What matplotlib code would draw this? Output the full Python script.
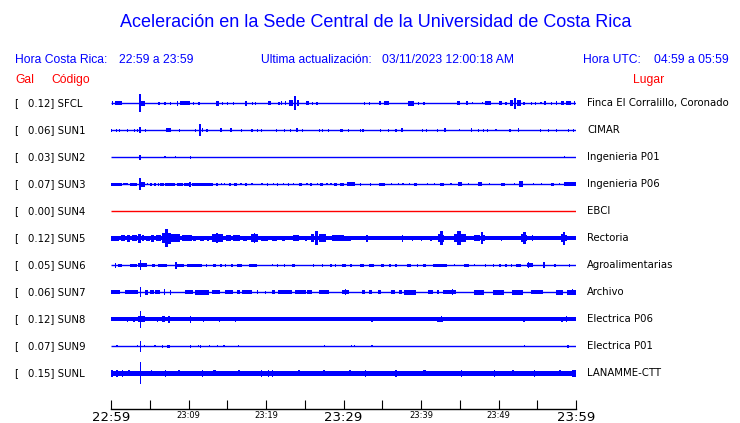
import matplotlib
matplotlib.use('Agg')
import matplotlib.pyplot as plt

# ---------------- data ----------------
codes = ['SFCL', 'SUN1', 'SUN2', 'SUN3', 'SUN4', 'SUN5', 'SUN6', 'SUN7', 'SUN8', 'SUN9', 'SUNL']
peaks_gal = [0.12, 0.06, 0.03, 0.07, 0.00, 0.12, 0.05, 0.06, 0.12, 0.07, 0.15]
places = ['Finca El Corralillo, Coronado', 'CIMAR', 'Ingenieria P01', 'Ingenieria P06', 'EBCI',
          'Rectoria', 'Agroalimentarias', 'Archivo', 'Electrica P06', 'Electrica P01', 'LANAMME-CTT']
# background (noise) half-amplitude of every trace, relative units
background = [0, 0, 0, 0, 0, 2.0, 0, 0, 1.9, 0, 2.5]
trace_colors = ['#0000FF', '#0000FF', '#0000FF', '#0000FF', '#FF0000', '#0000FF',
                '#0000FF', '#0000FF', '#0000FF', '#0000FF', '#0000FF']

# bursts: (start minute, end minute, half-amplitude) read from the record
ev_sfcl = [(0.1, 0.3, 2), (0.5, 1.4, 1.8), (3.65, 3.85, 9), (3.9, 4.4, 2.5), (6.1, 6.1, 1.5),
           (6.9, 6.9, 1.5), (7.6, 7.6, 1.5), (8.5, 8.7, 2.5), (8.9, 10.2, 2.2), (10.6, 10.6, 1.5),
           (11.2, 11.5, 1.5), (13.6, 13.9, 2.5), (14.3, 14.3, 1.5), (15.0, 15.0, 1.5), (15.7, 15.7, 1.5),
           (17.3, 17.6, 2.5), (18.2, 18.2, 1.5), (18.6, 18.6, 1.5), (20.2, 20.7, 2), (21.6, 21.6, 1.5),
           (21.9, 22.1, 2), (22.4, 22.6, 2), (23.0, 23.5, 3), (23.6, 23.9, 7), (24.0, 24.3, 3),
           (25.2, 25.5, 2), (25.9, 25.9, 1.5), (26.5, 26.5, 1.5), (32.6, 32.6, 1.5), (33.3, 33.3, 1.5),
           (34.6, 34.9, 2), (35.2, 35.9, 2), (38.3, 39.1, 2.5), (39.6, 39.6, 1.5), (40.3, 40.3, 1.5),
           (44.7, 45.0, 2), (45.8, 46.0, 2), (46.6, 46.6, 1), (47.9, 47.9, 1), (48.3, 49.0, 2),
           (50.1, 50.4, 2), (50.9, 50.9, 1.5), (51.5, 51.9, 3), (52.0, 52.3, 5.5), (52.4, 52.9, 3),
           (53.2, 53.2, 1.5), (54.2, 54.2, 1.5), (54.7, 54.7, 1.5), (55.4, 55.4, 1), (55.9, 56.1, 2),
           (56.8, 56.8, 1.5), (57.4, 57.6, 2), (58.1, 58.5, 2), (58.7, 59.4, 2), (59.7, 59.9, 2)]
ev_sun1 = [(0.0, 0.1, 1.5), (0.6, 0.6, 1.5), (1.0, 1.0, 1.5), (2.0, 2.0, 1.5), (3.0, 3.0, 1.5),
           (3.3, 3.3, 1.5), (3.6, 3.9, 3), (4.4, 4.4, 1.5), (7.1, 7.8, 2), (8.8, 8.8, 1.5),
           (10.8, 10.8, 1.5), (11.4, 11.6, 6), (11.7, 11.9, 2), (12.3, 12.3, 1.5), (14.1, 14.3, 2),
           (15.4, 15.6, 2), (16.8, 16.8, 1.5), (18.1, 18.1, 1.5), (18.8, 18.8, 1.5), (19.3, 19.3, 1.5),
           (21.3, 21.3, 1.5), (22.3, 22.3, 1.5), (23.1, 23.1, 1.5), (23.9, 24.1, 2), (24.6, 24.6, 1.5),
           (26.8, 26.8, 1.5), (27.2, 27.2, 1.5), (28.0, 28.0, 1.5), (29.6, 30.0, 1.5), (30.6, 30.6, 1.5),
           (32.1, 32.1, 1.5), (32.4, 32.7, 1.5), (34.7, 34.7, 1.5), (35.7, 35.7, 1.5), (36.7, 36.7, 1.5),
           (37.4, 37.7, 2), (40.1, 40.1, 1.5), (40.6, 40.6, 1.5), (42.0, 42.0, 1.5), (43.0, 43.2, 2),
           (44.9, 44.9, 1), (46.4, 46.6, 2), (47.3, 47.3, 1.5), (48.0, 48.0, 1.5), (48.5, 48.5, 1.5),
           (49.6, 49.6, 1), (51.4, 51.4, 1.5), (52.5, 52.7, 2), (55.3, 55.3, 1.5), (56.4, 56.4, 1.5),
           (57.4, 57.4, 1.5), (59.0, 59.0, 1.5), (59.6, 59.6, 1.5)]
ev_sun2 = [(3.65, 3.85, 2.5), (6.9, 6.9, 1), (8.2, 8.2, 1), (10.2, 10.2, 1.5), (58.4, 58.4, 1)]
ev_sun3 = [(0.0, 1.4, 1.5), (1.6, 2.2, 1.2), (2.5, 3.3, 1.5), (3.65, 3.85, 6), (3.9, 4.4, 2.5),
           (4.6, 4.6, 1.2), (5.0, 5.3, 1.5), (5.6, 5.8, 1.5), (6.0, 6.1, 1.5), (6.3, 6.9, 1.5),
           (7.0, 8.2, 1.5), (8.5, 9.3, 1.5), (9.4, 10.0, 1.5), (10.1, 10.3, 2.5), (10.4, 13.2, 1.5),
           (13.5, 13.8, 1.5), (14.2, 14.2, 1.2), (14.6, 14.6, 1.2), (15.2, 15.5, 1.5), (15.9, 16.2, 1.5),
           (16.7, 16.7, 1.2), (17.3, 17.6, 1.5), (18.1, 18.1, 1.2), (19.4, 19.4, 1.2), (20.1, 20.3, 1.5),
           (20.9, 20.9, 1.2), (21.4, 21.6, 1.5), (22.2, 22.2, 1.2), (22.8, 23.0, 1.5), (23.5, 23.5, 1.2),
           (24.3, 24.7, 1.5), (25.2, 25.2, 1.2), (25.7, 25.9, 1.5), (26.6, 26.6, 1.2), (27.0, 27.3, 1.5),
           (27.8, 27.8, 1.2), (28.3, 28.4, 1.2), (28.8, 29.1, 1.5), (29.5, 30.1, 1.5), (30.5, 31.5, 2),
           (32.1, 32.3, 1.5), (33.4, 33.6, 1.5), (34.6, 35.4, 1.5), (36.1, 36.1, 1.2), (37.0, 37.0, 1.2),
           (37.6, 37.6, 1.2), (38.4, 38.4, 1.2), (39.1, 39.5, 1.5), (40.8, 40.8, 1.2), (41.7, 41.7, 1.2),
           (42.5, 43.0, 1.5), (43.8, 43.8, 1.2), (44.8, 45.3, 2), (46.0, 46.0, 1.2), (47.3, 47.9, 2),
           (48.8, 48.8, 1.2), (50.3, 50.9, 1.5), (52.0, 52.0, 1.2), (52.6, 53.1, 3), (54.4, 54.4, 1.2),
           (55.5, 55.5, 1.2), (56.8, 57.2, 1.5), (57.8, 57.8, 1.2), (58.5, 60.0, 1.8)]
ev_sun4 = []
ev_sun5 = [(0.0, 1.0, 2.8), (1.3, 1.8, 3), (2.0, 2.5, 3.5), (2.7, 3.3, 3), (3.5, 3.9, 4.5),
           (4.0, 4.3, 3), (4.5, 5.0, 2.5), (5.2, 5.6, 3.5), (5.8, 6.4, 3), (6.6, 7.0, 5), (7.0, 7.4, 9),
           (7.4, 7.8, 5.5), (7.8, 8.9, 4), (9.2, 10.4, 3), (10.6, 11.0, 2.5), (11.5, 12.0, 2.5),
           (12.4, 12.6, 2.5), (13.0, 14.4, 4), (13.5, 13.8, 5), (14.8, 15.5, 3), (15.8, 16.7, 3),
           (17.0, 17.5, 2.5), (18.0, 19.0, 4), (18.4, 18.6, 5), (19.3, 20.2, 2.5), (20.8, 21.4, 2.5),
           (22.0, 22.5, 2.5), (23.5, 24.2, 3), (25.0, 25.3, 2.5), (25.8, 26.2, 4), (26.3, 26.7, 7),
           (26.8, 27.7, 4), (28.5, 30.0, 3), (30.0, 31.0, 2.5), (32.9, 33.2, 3.5), (37.5, 37.7, 3.5),
           (38.8, 39.0, 2.5), (40.0, 40.1, 2.5), (41.2, 41.3, 2.5), (42.2, 42.5, 4), (42.5, 42.8, 7),
           (42.8, 43.0, 3.5), (44.2, 44.7, 4), (44.7, 45.1, 7), (45.1, 45.8, 4), (46.8, 47.6, 3),
           (47.7, 48.0, 6), (48.0, 48.2, 3), (50.3, 50.4, 2.5), (52.9, 53.2, 4), (53.2, 53.5, 6),
           (53.5, 53.7, 3), (54.3, 54.5, 3), (58.0, 58.3, 4), (58.3, 58.6, 6.5), (58.6, 58.8, 3)]
ev_sun6 = [(0.5, 0.5, 2.5), (0.9, 1.4, 1.5), (2.5, 3.3, 1.5), (3.5, 4.6, 2), (3.7, 3.8, 5),
           (5.3, 5.7, 1.5), (6.0, 7.2, 1.5), (8.3, 8.3, 3.5), (8.5, 9.4, 1.5), (9.8, 11.7, 1.5),
           (12.2, 12.4, 1.5), (13.2, 13.5, 1.5), (14.1, 14.1, 1.5), (14.7, 14.7, 1.5), (15.5, 15.8, 1.5),
           (16.3, 16.9, 1.5), (17.8, 18.8, 1.5), (20.8, 20.8, 1), (21.4, 21.6, 1.5), (22.3, 22.3, 1.5),
           (23.4, 23.8, 1.5), (26.0, 26.0, 1.5), (27.2, 27.2, 1.5), (28.3, 28.3, 1.5), (28.9, 28.9, 1.5),
           (29.8, 30.3, 1.5), (30.9, 30.9, 1.5), (32.1, 32.6, 1.5), (33.3, 33.9, 1.5), (34.8, 35.2, 1.5),
           (35.9, 36.1, 1.5), (36.7, 36.9, 1.5), (38.2, 38.7, 1.5), (39.5, 39.5, 1.5), (40.2, 40.6, 1.5),
           (41.6, 43.4, 1.5), (44.2, 44.2, 1), (45.6, 46.2, 1.5), (46.8, 46.8, 1), (48.2, 48.2, 1.5),
           (49.3, 49.3, 1.5), (50.1, 50.1, 1.5), (50.9, 50.9, 1.5), (51.6, 51.6, 1.5), (52.2, 52.9, 1.5),
           (53.7, 54.4, 2), (53.8, 53.9, 3), (55.7, 56.0, 2), (55.8, 55.9, 3), (57.2, 57.2, 1.5),
           (59.1, 59.1, 1.5)]
ev_sun7 = [(0.0, 1.2, 2), (1.8, 3.5, 2), (3.7, 3.8, 5), (4.4, 4.8, 2.5), (5.0, 5.5, 2), (5.7, 6.3, 2),
           (6.8, 6.8, 3), (7.6, 7.8, 2.5), (9.6, 10.6, 2), (10.9, 12.6, 2.5), (13.0, 14.1, 2),
           (14.7, 15.8, 2), (16.3, 16.7, 2), (16.9, 18.2, 2), (18.8, 18.8, 2), (19.9, 19.9, 1.5),
           (20.8, 21.2, 2), (21.6, 23.4, 2), (23.8, 25.1, 2), (25.3, 25.9, 2), (26.8, 28.1, 2),
           (29.8, 30.7, 2), (30.2, 30.2, 3), (32.4, 32.8, 2), (33.3, 33.7, 2), (34.4, 34.8, 2),
           (36.1, 36.7, 2), (37.2, 37.6, 2), (37.8, 39.3, 2.5), (40.9, 41.5, 2), (42.1, 42.3, 2),
           (42.8, 44.5, 2), (44.0, 44.1, 3), (46.8, 48.1, 2.5), (49.3, 50.7, 2.5), (51.8, 53.1, 2.5),
           (54.2, 55.7, 2), (57.4, 58.3, 2.5), (58.8, 60.0, 2.5), (59.5, 59.6, 3)]
ev_sun8 = [(2.0, 2.0, 2.5), (2.9, 3.1, 2.5), (3.5, 4.4, 3), (3.7, 3.8, 8.5), (5.9, 5.9, 2.5),
           (6.6, 7.0, 3), (7.4, 7.6, 3.5), (10.2, 10.2, 3.5), (11.9, 11.9, 2.5), (13.9, 13.9, 2.5),
           (16.0, 16.0, 2.5), (27.0, 27.0, 2), (33.6, 33.6, 2.5), (42.1, 42.9, 2.5), (42.6, 42.7, 3),
           (53.2, 53.2, 2.5), (58.1, 58.1, 2.5), (58.7, 58.7, 3)]
ev_sun9 = [(0.7, 0.7, 1), (3.3, 3.3, 1), (3.7, 3.8, 5.5), (4.2, 4.2, 1), (5.6, 5.6, 1), (6.6, 6.6, 1.5),
           (7.2, 7.6, 1.5), (10.2, 10.2, 1.5), (11.2, 11.2, 1), (11.5, 11.5, 1.5), (12.6, 12.6, 1),
           (13.7, 13.7, 1), (14.5, 14.5, 1), (16.4, 16.4, 1), (27.5, 27.5, 1), (31.0, 31.0, 1),
           (31.3, 31.3, 1), (33.6, 33.6, 1), (53.3, 53.3, 1), (58.9, 58.9, 1.5)]
ev_sunl = [(0.0, 0.3, 3.2), (0.7, 0.7, 3.5), (1.4, 1.4, 3.5), (2.2, 2.5, 3.0), (3.7, 3.8, 11),
           (5.1, 5.3, 3.0), (7.0, 7.0, 3.5), (8.6, 8.9, 3.0), (11.7, 11.7, 3.5), (13.2, 13.5, 3.0),
           (16.4, 16.7, 3.0), (19.3, 19.3, 3.5), (20.2, 20.2, 3.5), (20.8, 20.8, 3.5), (24.1, 24.4, 3.0),
           (27.3, 27.6, 3.0), (30.7, 31.0, 3.0), (32.8, 32.8, 3.5), (36.7, 36.7, 3.5), (40.3, 40.6, 3.0),
           (45.1, 45.1, 3.5), (49.4, 49.4, 3.5), (51.7, 52.0, 3.0), (54.6, 54.6, 3.5), (57.8, 58.1, 3.0),
           (59.5, 60.0, 3.2)]
events = [ev_sfcl, ev_sun1, ev_sun2, ev_sun3, ev_sun4, ev_sun5, ev_sun6, ev_sun7, ev_sun8, ev_sun9, ev_sunl]

tick_minutes = [0, 5, 10, 15, 20, 25, 30, 35, 40, 45, 50, 55, 60]
tick_labels = ['22:59', '', '23:09', '', '23:19', '', '23:29', '', '23:39', '', '23:49', '', '23:59']
major_labels = ['22:59', '23:29', '23:59']

title = 'Aceleración en la Sede Central de la Universidad de Costa Rica'

# ---------------- figure ----------------
W, H = 740, 423
fig = plt.figure(figsize=(W / 100, H / 100), dpi=100)
BLUE = '#0000FF'
RED = '#FF0000'
HFONT = 'Liberation Sans'


def ftext(x, y, s, **kw):
    fig.text(x / W, 1 - y / H, s, **kw)


ftext(376, 22.5, title, ha='center', va='center', color=BLUE, fontsize=13.0, family=HFONT)
ftext(15, 60, 'Hora Costa Rica:', va='center', color=BLUE, fontsize=8.7, family=HFONT)
ftext(119, 60, '22:59 a 23:59', va='center', color=BLUE, fontsize=8.7, family=HFONT)
ftext(261, 60, 'Ultima actualización:', va='center', color=BLUE, fontsize=8.7, family=HFONT)
ftext(382, 60, '03/11/2023 12:00:18 AM', va='center', color=BLUE, fontsize=8.7, family=HFONT)
ftext(583, 60, 'Hora UTC:', va='center', color=BLUE, fontsize=8.7, family=HFONT)
ftext(654, 60, '04:59 a 05:59', va='center', color=BLUE, fontsize=8.7, family=HFONT)
ftext(15, 80, 'Gal', va='center', color=RED, fontsize=8.7, family=HFONT)
ftext(51, 80, 'Código', va='center', color=RED, fontsize=8.7, family=HFONT)
ftext(633, 80, 'Lugar', va='center', color=RED, fontsize=8.7, family=HFONT)

ax_left, ax_right, ax_top, ax_bot = 111, 576, 90, 409
ax = fig.add_axes([ax_left / W, 1 - ax_bot / H, (ax_right - ax_left) / W, (ax_bot - ax_top) / H])
ROW_PX = 27.0
FIRST_ROW_PX = 103.3
ax.set_xlim(0, 60)
ax.set_ylim((ax_bot - FIRST_ROW_PX) / ROW_PX, (ax_top - FIRST_ROW_PX) / ROW_PX)
AMP = 1.0 / ROW_PX

for i, (code, pk, place, bg, col, ev) in enumerate(zip(codes, peaks_gal, places, background,
                                                       trace_colors, events)):
    ax.plot([0, 60], [i, i], color=col, lw=1.0, solid_capstyle='butt')
    if bg > 0:
        ax.bar(0, 2 * bg * AMP, width=60, bottom=i - bg * AMP, align='edge', color=col, lw=0)
    for t0, t1, a in ev:
        ax.bar(t0, 2 * a * AMP, width=max(t1 - t0, 0.16), bottom=i - a * AMP, align='edge',
               color=col, lw=0)
    ypx = FIRST_ROW_PX + i * ROW_PX
    ftext(14.5, ypx, '[', va='center', color='black', fontsize=7.3, family='DejaVu Sans')
    ftext(28, ypx, f'{pk:.2f}] {code}', va='center', color='black', fontsize=7.3, family='DejaVu Sans')
    ftext(587, ypx, place, va='center', color='black', fontsize=7.3, family='DejaVu Sans')

for s in ['left', 'right', 'top']:
    ax.spines[s].set_visible(False)
ax.spines['bottom'].set_linewidth(1.0)
ax.set_yticks([])
ax.set_xticks(tick_minutes, tick_labels)
ax.tick_params(axis='x', direction='in', length=6.5, width=0.8, pad=1.5, color='black')
for lbl in ax.get_xticklabels():
    if lbl.get_text() in major_labels:
        lbl.set_fontsize(9.5)
    else:
        lbl.set_fontsize(6)
    lbl.set_family('DejaVu Sans')

fig.savefig('out.png', dpi=100)
